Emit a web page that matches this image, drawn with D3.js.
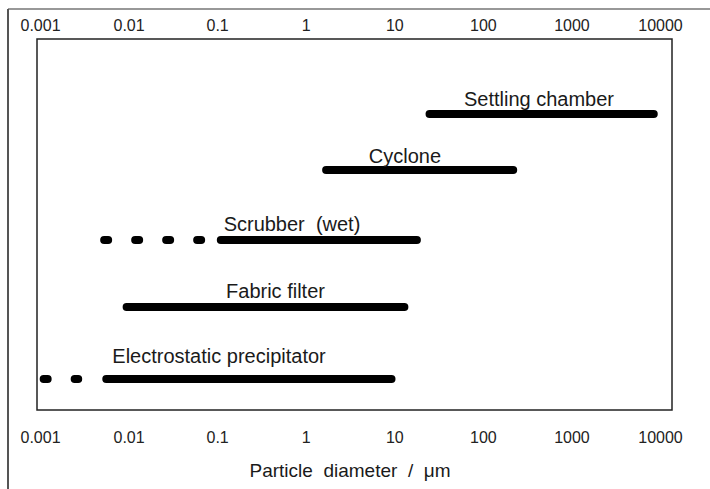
<!DOCTYPE html>
<html>
<head>
<meta charset="utf-8">
<script src="https://cdn.jsdelivr.net/npm/d3@7"></script>
<style>
  body { margin: 0; background: #fff; }
  svg { display: block; font-family: "Liberation Sans", Arial, sans-serif; }
  .tick text { font-size: 16px; fill: #222; }
  .label { font-size: 20px; fill: #1a1a1a; white-space: pre; }
</style>
</head>
<body>
<div id="chart"></div>
<script>
// collector types and their particle size ranges (um)
const collectors = ["Settling chamber", "Cyclone", "Scrubber  (wet)", "Fabric filter", "Electrostatic precipitator"];
const rangeStart = [25, 1.7, 0.11, 0.0095, 0.0056];
const rangeEnd = [8500, 220, 18, 13, 9.3];
// dotted extension (extended range) - null when none
const dottedStart = [null, null, 0.0053, null, 0.0011];
const dottedEnd = [null, null, 0.066, null, 0.0027];
// where each name sits along the size axis (um)
const labelAt = [430, 13.2, 0.70, 0.456, 0.105];
const tickValues = [0.001, 0.01, 0.1, 1, 10, 100, 1000, 10000];
const tickLabels = ["0.001", "0.01", "0.1", "1", "10", "100", "1000", "10000"];

const width = 710, height = 489;
const frame = {left: 37, top: 39, right: 672, bottom: 410};

const svg = d3.select("#chart")
  .append("svg")
  .attr("width", width)
  .attr("height", height);

// page edge lines of the scanned figure
svg.append("line")
  .attr("x1", 8).attr("x2", width).attr("y1", 9).attr("y2", 9)
  .attr("stroke", "#333").attr("stroke-width", 1.2);
svg.append("line")
  .attr("x1", 8).attr("x2", 8).attr("y1", 9).attr("y2", height)
  .attr("stroke", "#555").attr("stroke-width", 2);

const xScale = d3.scaleLog()
  .domain([0.001, 10000])
  .range([40, 660]);

// rows are not evenly spaced in the original figure
const yScale = d3.scaleOrdinal()
  .domain(collectors)
  .range([114, 170, 240, 307, 379]);
const labelY = d3.scaleOrdinal()
  .domain(collectors)
  .range([106, 163, 231, 298, 363]);

// inner frame
svg.append("rect")
  .attr("x", frame.left)
  .attr("y", frame.top)
  .attr("width", frame.right - frame.left)
  .attr("height", frame.bottom - frame.top)
  .attr("fill", "none")
  .attr("stroke", "#222")
  .attr("stroke-width", 1.5);

const fmt = (d) => tickLabels[tickValues.indexOf(d)];

// top axis
const topAxis = d3.axisTop(xScale).tickValues(tickValues).tickFormat(fmt).tickSize(0).tickPadding(0);
svg.append("g")
  .attr("transform", "translate(0, 31)")
  .call(topAxis)
  .call(g => g.select(".domain").remove());

// bottom axis
const bottomAxis = d3.axisBottom(xScale).tickValues(tickValues).tickFormat(fmt).tickSize(0).tickPadding(0);
svg.append("g")
  .attr("transform", "translate(0, 432)")
  .call(bottomAxis)
  .call(g => g.select(".domain").remove());

svg.selectAll(".tick text").attr("font-family", null);

// axis title
svg.append("text")
  .attr("class", "label")
  .attr("x", 350)
  .attr("y", 477)
  .attr("text-anchor", "middle")
  .style("font-size", "19px")
  .text("Particle  diameter  /  \u03bcm");

const rows = collectors.map((c, i) => ({
  name: c, x0: rangeStart[i], x1: rangeEnd[i], d0: dottedStart[i], d1: dottedEnd[i], lx: labelAt[i]
}));

// solid range bars
svg.selectAll(".bar")
  .data(rows)
  .join("line")
    .attr("class", "bar")
    .attr("x1", d => xScale(d.x0))
    .attr("x2", d => xScale(d.x1))
    .attr("y1", d => yScale(d.name))
    .attr("y2", d => yScale(d.name))
    .attr("stroke", "#000")
    .attr("stroke-width", 8)
    .attr("stroke-linecap", "round");

// dotted extensions
svg.selectAll(".dots")
  .data(rows.filter(d => d.d0 !== null))
  .join("line")
    .attr("class", "dots")
    .attr("x1", d => xScale(d.d0))
    .attr("x2", d => xScale(d.d1))
    .attr("y1", d => yScale(d.name))
    .attr("y2", d => yScale(d.name))
    .attr("stroke", "#000")
    .attr("stroke-width", 8)
    .attr("stroke-linecap", "round")
    .attr("stroke-dasharray", "4,27");

// labels above bars
svg.selectAll(".name")
  .data(rows)
  .join("text")
    .attr("class", "label name")
    .attr("x", d => xScale(d.lx))
    .attr("y", d => labelY(d.name))
    .attr("text-anchor", "middle")
    .text(d => d.name);
</script>
</body>
</html>
